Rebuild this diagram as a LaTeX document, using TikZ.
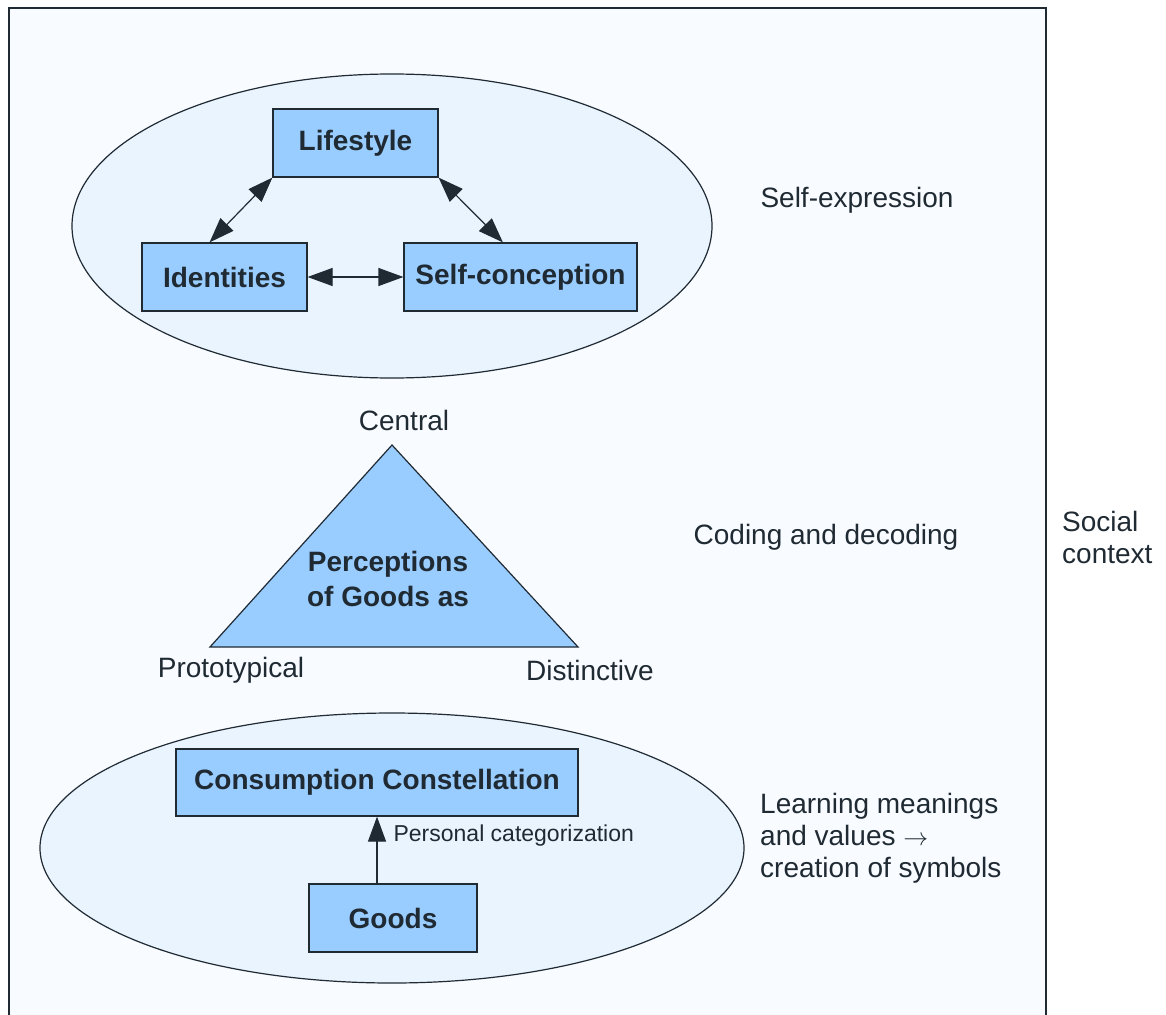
\documentclass[tikz,border=0pt]{standalone}
\usepackage{fontspec}
\setmainfont{Liberation Sans}
\usetikzlibrary{calc, arrows.meta}

\definecolor{marco}{HTML}{F8FBFF}
\definecolor{elipse}{HTML}{EAF4FF}
\definecolor{caja}{HTML}{99CCFF}
\definecolor{tinta}{HTML}{1F2A33}

\tikzset{
    caja/.style={draw=tinta, line width=1.2pt, fill=caja, text=tinta,
        font=\fontsize{28}{32}\selectfont\bfseries, inner sep=0pt},
    texto/.style={text=tinta, font=\fontsize{28}{32}\selectfont, inner sep=0pt},
    punta/.tip={Triangle[length=25pt, width=18pt]},
    flecha/.style={draw=tinta, line width=1.2pt, punta-punta},
}

\begin{document}
\begin{tikzpicture}[x=1pt, y=-1pt]

    % --- Lienzo (1 unidad = 1 px de la referencia) ---
    \useasboundingbox (0,0) rectangle (1166,1014);
    \fill[white] (0,0) rectangle (1166,1014);
    \clip (0,0) rectangle (1166,1014);

    % Marco del contexto social
    \draw[fill=marco, draw=tinta, line width=2pt] (9,8) rectangle (1046,1040);

    % =========================================================================
    % NIVEL SUPERIOR: autoexpresión
    % =========================================================================
    \draw[fill=elipse, draw=tinta, line width=1.2pt] (392,226) ellipse [x radius=320pt, y radius=152pt];

    \node[caja, minimum width=165pt, minimum height=68pt] (lifestyle) at (355.5,143) {Lifestyle};
    \node[caja, minimum width=165pt, minimum height=68pt] (identities) at (224.5,277) {Identities};
    \node[caja, minimum width=233pt, minimum height=68pt] (selfconc) at (520.5,277) {Self-conception};

    \draw[flecha] (lifestyle.south west) -- ($(identities.north west)!0.41!(identities.north east)$);
    \draw[flecha] (lifestyle.south east) -- ($(selfconc.north west)!0.425!(selfconc.north east)$);
    \draw[flecha] (identities.east) -- (selfconc.west);

    \node[texto] (selfexpr) at (857,200) {Self-expression};

    % =========================================================================
    % NIVEL MEDIO: codificación y decodificación
    % =========================================================================
    \coordinate (apex) at (392,445);
    \coordinate (baseL) at (210,647);
    \coordinate (baseR) at (578,647);
    \draw[fill=caja, draw=tinta, line width=1.2pt] (apex) -- (baseL) -- (baseR) -- cycle;

    \node[texto, font=\fontsize{28}{35}\selectfont\bfseries, align=center] (percep) at (388,579) {Perceptions\\of Goods as};

    \node[texto] (central) at (404,420) {Central};
    \node[texto] (proto) at (231,670) {Prototypical};
    \node[texto] (distin) at (590,670) {Distinctive};

    \node[texto] (coding) at (826,537) {Coding and decoding};
    \node[texto, anchor=west, align=left] (social) at (1062,537) {Social\\context};

    % =========================================================================
    % NIVEL INFERIOR: aprendizaje de significados
    % =========================================================================
    \draw[fill=elipse, draw=tinta, line width=1.2pt] (392,848) ellipse [x radius=352pt, y radius=135pt];

    \node[caja, minimum width=402pt, minimum height=67pt] (constel) at (377,782.5) {Consumption Constellation};
    \node[caja, minimum width=168pt, minimum height=68pt] (goods) at (393,918) {Goods};

    \draw[draw=tinta, line width=1.2pt, -punta]
        (goods.north -| constel.south) -- (constel.south)
        node[pos=0.72, right=16pt, texto, font=\fontsize{23}{26}\selectfont] (catego) {Personal categorization};

    \node[texto, anchor=west, align=left] (learning) at (760,838) {Learning meanings\\and values $\rightarrow$\\creation of symbols};

\end{tikzpicture}
\end{document}
